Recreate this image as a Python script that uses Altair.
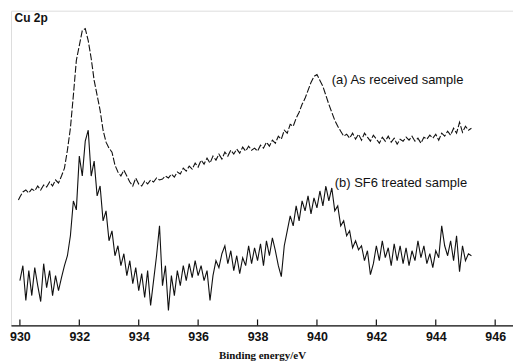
import altair as alt
import pandas as pd

# Binding energy grid (eV) and intensities (arbitrary units)
energy_a = [929.95] + [round(930.0 + 0.1 * i, 2) for i in range(153)]
intensity_a = [126, 129, 134, 136, 133, 137, 135, 140, 136, 141, 139,
               144, 140, 146, 143, 150, 158, 176, 198, 231, 266,
               281, 296, 298, 286, 268, 246, 231, 216, 196, 184,
               178, 174, 161, 154, 150, 156, 150, 144, 140, 148,
               142, 140, 145, 142, 146, 144, 148, 146, 147, 150,
               148, 152, 149, 154, 152, 158, 155, 160, 157, 163,
               159, 166, 162, 168, 163, 170, 166, 172, 167, 174,
               170, 176, 172, 177, 173, 179, 175, 180, 176, 178,
               175, 181, 178, 184, 180, 186, 183, 190, 187, 196,
               193, 202, 200, 208, 214, 222, 228, 236, 244, 250,
               252, 246, 240, 231, 222, 214, 206, 200, 195, 190,
               192, 188, 193, 187, 192, 186, 193, 189, 185, 191,
               187, 183, 189, 185, 190, 184, 188, 182, 187, 185,
               189, 186, 190, 185, 188, 183, 189, 187, 191, 188,
               192, 186, 193, 190, 195, 191, 198, 193, 204, 194,
               200, 196, 198]

energy_b = [round(930.0 + 0.1 * i, 2) for i in range(153)]
intensity_b = [45, 60, 25, 55, 30, 58, 40, 24, 62, 38,
               55, 30, 50, 35, 48, 60, 70, 90, 125, 116,
               170, 150, 185, 196, 150, 165, 130, 140, 105, 115,
               85, 95, 70, 80, 60, 72, 50, 65, 42, 58,
               35, 52, 28, 55, 20, 45, 70, 100, 40, 60,
               15, 50, 30, 55, 40, 60, 45, 62, 48, 65,
               50, 60, 45, 55, 25, 50, 65, 58, 72, 80,
               62, 75, 55, 70, 52, 68, 60, 80, 62, 78,
               65, 82, 60, 85, 70, 88, 75, 60, 49, 80,
               95, 110, 100, 120, 105, 125, 115, 130, 112, 128,
               118, 135, 120, 140, 125, 138, 115, 120, 100, 105,
               90, 95, 78, 85, 76, 80, 65, 75, 51, 62,
               80, 65, 85, 68, 78, 60, 82, 65, 80, 62,
               78, 60, 75, 65, 85, 68, 80, 62, 72, 58,
               75, 68, 100, 80, 70, 85, 65, 90, 54, 80,
               65, 72, 70]

tick_values = [930, 932, 934, 936, 938, 940, 942, 944, 946]

label_texts = ["Cu 2p", "(a) As received sample", "(b) SF6 treated sample"]
label_x = [929.82, 940.5, 940.6]
label_y = [309, 246, 143]
label_bold = ["bold", "normal", "normal"]

df_a = pd.DataFrame({"energy": energy_a, "intensity": intensity_a})
df_b = pd.DataFrame({"energy": energy_b, "intensity": intensity_b})
df_ticks = pd.DataFrame({"energy": tick_values, "lo": [0] * len(tick_values),
                         "hi": [6] * len(tick_values)})
df_labels = pd.DataFrame({"text": label_texts, "energy": label_x,
                          "intensity": label_y, "weight": label_bold})

xscale = alt.Scale(domain=[929.7, 946.6], nice=False, zero=False)
yscale = alt.Scale(domain=[0, 316], nice=False, zero=True)

xaxis = alt.Axis(values=tick_values, format="d", ticks=False, grid=False,
                 labelFont="Liberation Sans", labelFontSize=12.5, labelFontWeight="bold",
                 labelColor="#111", labelPadding=5, domainColor="#111", domainWidth=1.2,
                 title="Binding energy/eV", titleFont="Liberation Serif",
                 titleFontSize=11, titleFontWeight="bold", titleColor="#111",
                 titlePadding=7)

line_a = alt.Chart(df_a).mark_line(color="#111", strokeWidth=1.1, strokeDash=[7, 2]).encode(
    x=alt.X("energy:Q", scale=xscale, axis=xaxis),
    y=alt.Y("intensity:Q", scale=yscale, axis=None),
)

line_b = alt.Chart(df_b).mark_line(color="#111", strokeWidth=1.1).encode(
    x=alt.X("energy:Q", scale=xscale),
    y=alt.Y("intensity:Q", scale=yscale),
)

ticks = alt.Chart(df_ticks).mark_rule(color="#111", strokeWidth=1.2).encode(
    x=alt.X("energy:Q", scale=xscale),
    y=alt.Y("lo:Q", scale=yscale),
    y2="hi:Q",
)

labels_normal = alt.Chart(df_labels[df_labels.weight == "normal"]).mark_text(
    align="left", baseline="middle", font="Liberation Sans", fontSize=13, color="#111"
).encode(
    x=alt.X("energy:Q", scale=xscale),
    y=alt.Y("intensity:Q", scale=yscale),
    text="text:N",
)

labels_bold = alt.Chart(df_labels[df_labels.weight == "bold"]).mark_text(
    align="left", baseline="middle", font="Liberation Sans", fontSize=12,
    fontWeight="bold", color="#111"
).encode(
    x=alt.X("energy:Q", scale=xscale),
    y=alt.Y("intensity:Q", scale=yscale),
    text="text:N",
)

chart = alt.layer(line_a, line_b, ticks, labels_normal, labels_bold).properties(
    width=504, height=316,
    autosize=alt.AutoSizeParams(type="none"),
    padding={"left": 3, "top": 2, "right": 0, "bottom": 36},
).configure_view(stroke=None).configure(background="white")

chart.save("out.html", embed_options={"renderer": "svg", "actions": False})
